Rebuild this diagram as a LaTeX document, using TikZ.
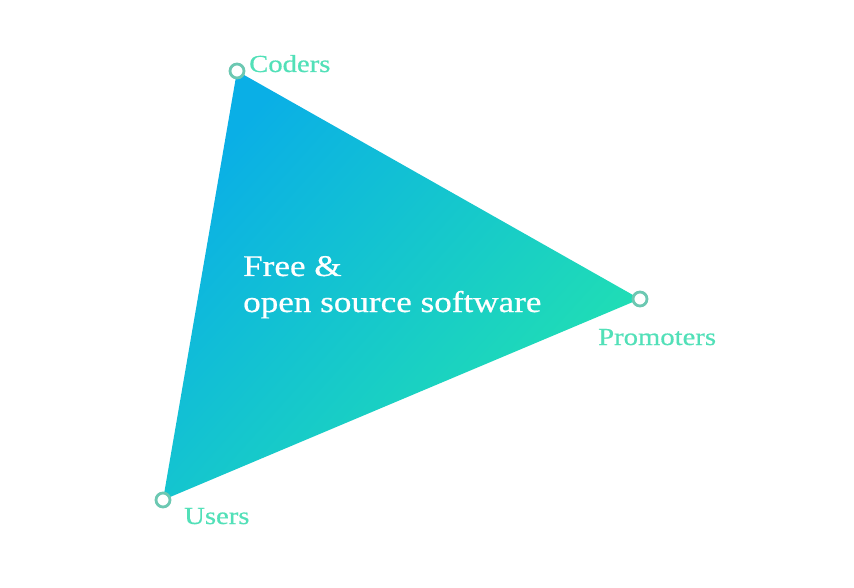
\documentclass[tikz,border=0pt]{standalone}
\usepackage{fontspec}
\setmainfont{Liberation Serif}[FakeStretch=1.17,FakeBold=0.6]
\definecolor{tblue}{HTML}{0AAFE6}
\definecolor{tgreen}{HTML}{22E2B0}
\definecolor{lbl}{HTML}{52E0B8}
\definecolor{ring}{HTML}{6CC8B2}
\tikzset{
  vtx/.style={circle, draw=ring, line width=2.8pt, fill=white, minimum size=14pt, inner sep=0pt},
  lab/.style={text=lbl, font=\fontsize{24.5}{28}\selectfont, inner sep=0pt, anchor=base west},
}
\begin{document}
\begin{tikzpicture}[x=1pt,y=-1pt]
\useasboundingbox (0,0) rectangle (854,588);
\coordinate (C) at (237,71);
\coordinate (P) at (640,299);
\coordinate (U) at (163,500);
\path[top color=tblue, bottom color=tgreen, shading angle=48] (C) -- (P) -- (U) -- cycle;
\node[text=white, font=\fontsize{30}{36}\selectfont, align=left, anchor=base west, inner sep=0pt] (t) at (243,312) {Free \&\\open source software};
\node[vtx] (vc) at (C) {};
\node[vtx] (vp) at (P) {};
\node[vtx] (vu) at (U) {};
\node[lab] (lc) at (249,72) {Coders};
\node[lab] (lp) at (598,345) {Promoters};
\node[lab] (lu) at (184,524) {Users};
\end{tikzpicture}
\end{document}
